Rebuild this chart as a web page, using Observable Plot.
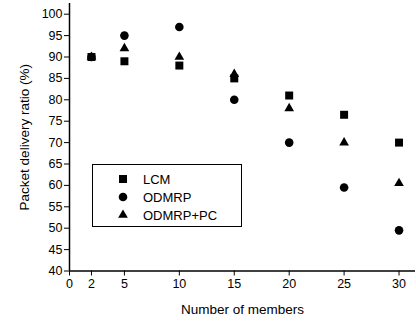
<!DOCTYPE html>
<html>
<head>
<meta charset="utf-8">
<script src="https://cdn.jsdelivr.net/npm/d3@7"></script>
<script src="https://cdn.jsdelivr.net/npm/@observablehq/plot@0.6"></script>
<style>
  html, body { margin: 0; padding: 0; background: #fff; }
  #wrap { position: relative; width: 416px; height: 321px; font-family: "Liberation Sans", Arial, sans-serif; }
  #legend { position: absolute; left: 92px; top: 164px; width: 148px; height: 61px; border: 1.5px solid #000; background: #fff; }
  #legend .row { position: absolute; left: 0; height: 18px; display: flex; align-items: center; font-size: 13px; color: #000; }
  #legend svg { position: absolute; left: 24px; }
  #legend span { position: absolute; left: 50px; white-space: nowrap; }
</style>
</head>
<body>
<div id="wrap"></div>
<script>
const members = [2, 5, 10, 15, 20, 25, 30];
const lcm     = [90, 89, 88, 85, 81, 76.5, 70];
const odmrp   = [90, 95, 97, 80, 70, 59.5, 49.5];
const odmrpPC = [90, 92, 90, 86, 78, 70, 60.5];
const seriesNames = ["LCM", "ODMRP", "ODMRP+PC"];
const seriesSymbols = ["square", "circle", "triangle"];
const xTicks = [0, 2, 5, 10, 15, 20, 25, 30];
const yTicks = [40, 45, 50, 55, 60, 65, 70, 75, 80, 85, 90, 95, 100];

const values = [lcm, odmrp, odmrpPC];
const data = [];
values.forEach((arr, s) => arr.forEach((v, i) => data.push({series: seriesNames[s], x: members[i], y: v})));

const rBy = {"LCM": 4.5, "ODMRP": 4.3, "ODMRP+PC": 3.6};

const chart = Plot.plot({
  width: 416,
  height: 321,
  marginLeft: 69,
  marginRight: 1,
  marginTop: 3,
  marginBottom: 50.5,
  style: {fontSize: "12px", fontFamily: "Liberation Sans, Arial, sans-serif", color: "#000", background: "#fff"},
  x: {domain: [0, 31.5]},
  y: {domain: [40, 102.5]},
  symbol: {domain: seriesNames, range: seriesSymbols},
  marks: [
    Plot.axisX({ticks: xTicks, tickSize: 5, tickPadding: 3, label: null, fontSize: 12.5}),
    Plot.axisX({ticks: [], tickSize: 0, label: "Number of members", labelAnchor: "center", labelArrow: "none", labelOffset: 43, fontSize: 13.5}),
    Plot.axisY({ticks: yTicks, tickSize: 5, tickPadding: 2, label: null, fontSize: 12.5}),
    Plot.axisY({ticks: [], tickSize: 0, label: "Packet delivery ratio (%)", labelAnchor: "center", labelArrow: "none", labelOffset: 50, fontSize: 13.5}),
    Plot.ruleX([0], {stroke: "#000", strokeWidth: 1.5}),
    Plot.ruleY([40], {stroke: "#000", strokeWidth: 1.5}),
    ...seriesNames.map(name => Plot.dot(data.filter(d => d.series === name), {
      x: "x", y: "y", symbol: "series", fill: "#000", stroke: "none", r: rBy[name]
    }))
  ]
});
document.getElementById("wrap").appendChild(chart);

// Legend (inside chart, HTML overlay)
const legend = document.createElement("div");
legend.id = "legend";
const syms = {square: d3.symbolSquare, circle: d3.symbolCircle, triangle: d3.symbolTriangle};
seriesNames.forEach((name, i) => {
  const row = document.createElement("div");
  row.className = "row";
  row.style.top = (5 + i * 18) + "px";
  row.style.width = "148px";
  const r = rBy[name];
  const path = d3.symbol(syms[seriesSymbols[i]], Math.PI * r * r)();
  row.innerHTML = `<svg width="12" height="12" viewBox="-6 -6 12 12" style="top:3px"><path d="${path}" fill="#000"/></svg><span>${name}</span>`;
  legend.appendChild(row);
});
document.getElementById("wrap").appendChild(legend);
</script>
</body>
</html>
